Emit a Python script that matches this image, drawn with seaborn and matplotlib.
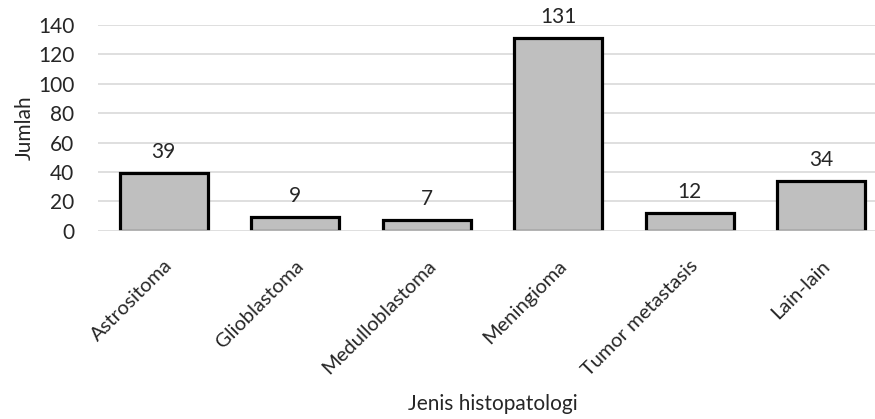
import matplotlib
matplotlib.use('Agg')
import matplotlib.pyplot as plt
import seaborn as sns
import pandas as pd

# 数据
categories = ['Astrositoma', 'Glioblastoma', 'Medulloblastoma', 'Meningioma',
              'Tumor metastasis', 'Lain-lain']
counts = [39, 9, 7, 131, 12, 34]
y_ticks = [0, 20, 40, 60, 80, 100, 120, 140]

sns.set_theme(style='white')
plt.rcParams['font.family'] = ['Lato', 'DejaVu Sans']

df = pd.DataFrame({'jenis': categories, 'jumlah': counts})

fig = plt.figure(figsize=(8.75, 4.19), dpi=100)
ax = fig.add_axes([0.112, 0.4494, 0.9015, 0.4909])

sns.barplot(data=df, x='jenis', y='jumlah', color='#BFBFBF', saturation=1,
            width=0.67, edgecolor='black', linewidth=2.3, ax=ax, zorder=3)

# 网格线
for t in y_ticks:
    ax.axhline(t, color='#D9D9D9', linewidth=1.2, zorder=1 if t else 4)

ax.set_ylim(0, 140)
ax.set_yticks(y_ticks)
ax.tick_params(axis='y', labelsize=15, length=0, pad=17)
ax.tick_params(axis='x', labelsize=14.5, length=0, pad=19)
plt.setp(ax.get_xticklabels(), rotation=45, ha='right', rotation_mode='anchor')

for p, v in zip(ax.patches, counts):
    ax.annotate(str(v), (p.get_x() + p.get_width() / 2, v), xytext=(0, 8),
                textcoords='offset points', ha='center', va='bottom', fontsize=15)

ax.set_xlabel('Jenis histopatologi', fontsize=15, labelpad=11)
ax.set_ylabel('Jumlah', fontsize=15, labelpad=2)
sns.despine(ax=ax, left=True, bottom=True)

fig.savefig('out.png', dpi=100)
